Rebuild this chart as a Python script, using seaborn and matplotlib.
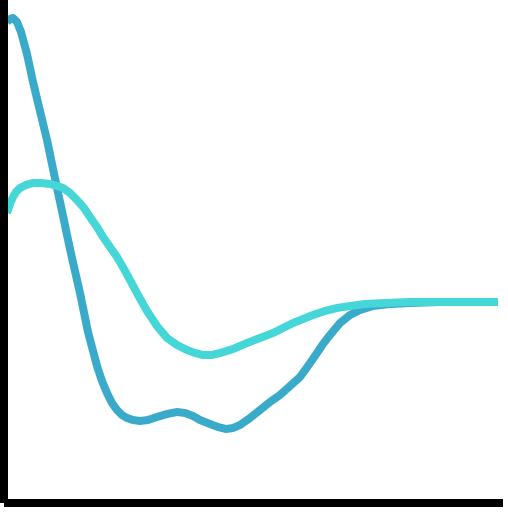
import matplotlib
matplotlib.use("Agg")
import matplotlib.pyplot as plt
import seaborn as sns
import pandas as pd

# values, in pixel units (x from left edge, y down from top)
dark_x = [7, 10, 13, 17, 21, 27, 33, 40, 47, 52, 57, 62, 67, 72, 80, 88, 97, 102, 107, 112,
          117, 122, 127, 133, 140, 148, 157, 167, 177, 185, 193, 200, 210, 218, 226, 233, 240,
          250, 260, 270, 280, 290, 300, 308, 317, 323, 330, 340, 350, 360, 373, 390, 410, 440,
          470, 498]
dark_y = [22, 19, 18, 22, 32, 54, 82, 111, 140, 164, 188, 211, 235, 258, 293, 332, 366, 381,
          393, 403, 410, 415, 418, 420, 421, 420, 417, 414, 412, 413, 416, 420, 424, 427, 429,
          428, 425, 418, 410, 402, 395, 386, 377, 366, 353, 344, 335, 323, 315, 310, 306, 304,
          303, 302, 302, 302]

cyan_x = [7, 10, 13, 16, 20, 26, 33, 41, 50, 57, 63, 70, 77, 84, 90, 97, 103, 110, 117, 124,
          130, 138, 147, 157, 167, 177, 187, 195, 203, 212, 220, 233, 247, 260, 273, 283, 293,
          303, 313, 325, 337, 350, 365, 385, 410, 450, 498]
cyan_y = [213, 204, 197, 192, 188, 185, 183, 183, 184, 186, 188, 193, 200, 208, 217, 227, 237,
          247, 257, 269, 280, 295, 311, 326, 338, 345, 350, 353, 355, 355, 353, 349, 343, 338,
          333, 328, 323, 319, 315, 311, 308, 306, 304, 303, 302, 302, 302]

BASE = 503  # pixel row of the bottom axis


def to_frame(xs, ys):
    return pd.DataFrame({"x": [v - 3.5 for v in xs], "y": [BASE - v for v in ys]})


sns.set_style("white")
fig = plt.figure(figsize=(5.08, 5.12), dpi=100)
ax = fig.add_axes([3.5 / 508, 9 / 512, 499.5 / 508, 503 / 512])

lw = 8 * 72 / 100
sns.lineplot(data=to_frame(dark_x, dark_y), x="x", y="y", ax=ax, color="#3AAACB",
             linewidth=lw, estimator=None, sort=False)
sns.lineplot(data=to_frame(cyan_x, cyan_y), x="x", y="y", ax=ax, color="#45D6D8",
             linewidth=lw, estimator=None, sort=False)

ax.set_xlim(0, 499.5)
ax.set_ylim(0, 503)
ax.set_xticks([])
ax.set_yticks([])
ax.set_xlabel("")
ax.set_ylabel("")
for side in ["top", "right"]:
    ax.spines[side].set_visible(False)
for side in ["left", "bottom"]:
    ax.spines[side].set_linewidth(lw)
    ax.spines[side].set_color("black")
    ax.spines[side].set_capstyle("butt")
for line in ax.lines:
    line.set_clip_on(False)
    line.set_solid_joinstyle("round")
    line.set_solid_capstyle("butt")

fig.savefig("out.png", dpi=100, facecolor="white")
